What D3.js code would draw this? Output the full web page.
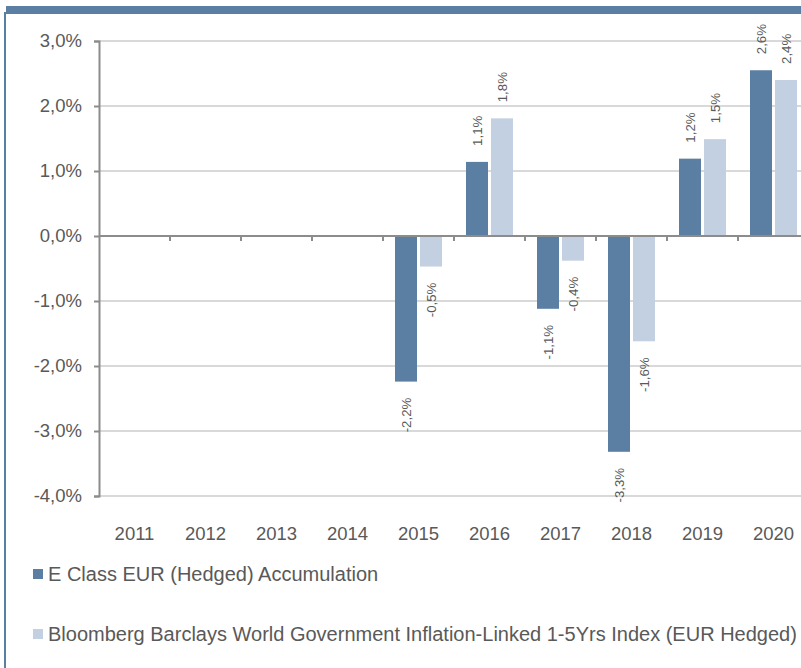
<!DOCTYPE html>
<html>
<head>
<meta charset="utf-8">
<script src="https://cdn.jsdelivr.net/npm/d3@7"></script>
<style>
  html, body { margin: 0; padding: 0; background: #fff; }
  svg { display: block; font-family: "Liberation Sans", Arial, sans-serif; }
</style>
</head>
<body>
<svg id="chart" width="801" height="668"></svg>
<script>
const years = ["2011","2012","2013","2014","2015","2016","2017","2018","2019","2020"];
const fundValues  = [null, null, null, null, -2.24, 1.14, -1.12, -3.32, 1.19, 2.55];
const indexValues = [null, null, null, null, -0.47, 1.81, -0.38, -1.62, 1.49, 2.40];
const fundLabels  = ["", "", "", "", "-2,2%", "1,1%", "-1,1%", "-3,3%", "1,2%", "2,6%"];
const indexLabels = ["", "", "", "", "-0,5%", "1,8%", "-0,4%", "-1,6%", "1,5%", "2,4%"];
const yTicks = [3, 2, 1, 0, -1, -2, -3, -4];
const yTickLabels = ["3,0%", "2,0%", "1,0%", "0,0%", "-1,0%", "-2,0%", "-3,0%", "-4,0%"];
const seriesNames = ["E Class EUR (Hedged) Accumulation",
  "Bloomberg Barclays World Government Inflation-Linked 1-5Yrs Index (EUR Hedged)"];
const seriesKeys = ["fund", "index"];
const colors = ["#5b7fa3", "#c3d0e2"];

const svg = d3.select("#chart");
const textColor = "#595959";

// frame
svg.append("rect").attr("x", 6).attr("y", 6).attr("width", 795).attr("height", 8).attr("fill", "#5b7fa3");
svg.append("rect").attr("x", 4).attr("y", 12).attr("width", 2).attr("height", 656).attr("fill", "#5b7fa3");

const x0 = d3.scaleBand().domain(years).range([99, 809]).padding(0);
const x1 = d3.scaleBand().domain(seriesKeys).range([12, 59]).paddingInner(0.12).paddingOuter(0);
const y = d3.scaleLinear().domain([-4, 3]).range([496, 41]);

// gridlines
svg.append("g").selectAll("line").data(yTicks.filter(t => t !== 0)).join("line")
  .attr("x1", 99).attr("x2", 801)
  .attr("y1", d => y(d)).attr("y2", d => y(d))
  .attr("stroke", "#d9d9d9").attr("stroke-width", 2);

// y axis
const yAxis = d3.axisLeft(y).tickValues(yTicks).tickSize(5).tickPadding(12)
  .tickFormat((d, i) => yTickLabels[i]);
const gy = svg.append("g").attr("transform", "translate(99,0)").call(yAxis);
gy.select(".domain").attr("stroke", "#8c8c8c").attr("stroke-width", 2);
gy.selectAll(".tick line").attr("stroke", "#8c8c8c").attr("stroke-width", 2);
gy.selectAll(".tick text").attr("fill", textColor).attr("font-size", 18.5)
  .attr("font-family", "Liberation Sans, Arial, sans-serif");

// bars
const rows = years.map((yr, i) => ({ year: yr, vals: [
  { key: "fund", v: fundValues[i], label: fundLabels[i] },
  { key: "index", v: indexValues[i], label: indexLabels[i] }
]}));

const groups = svg.append("g").selectAll("g").data(rows).join("g")
  .attr("transform", d => `translate(${x0(d.year)},0)`);

groups.selectAll("rect").data(d => d.vals.filter(v => v.v !== null)).join("rect")
  .attr("x", d => x1(d.key))
  .attr("width", x1.bandwidth())
  .attr("y", d => y(Math.max(0, d.v)))
  .attr("height", d => Math.abs(y(d.v) - y(0)))
  .attr("fill", (d) => colors[seriesKeys.indexOf(d.key)]);

groups.selectAll("text").data(d => d.vals.filter(v => v.v !== null)).join("text")
  .attr("transform", d => {
    const cx = x1(d.key) + x1.bandwidth() / 2;
    const cy = d.v >= 0 ? y(d.v) - 16 : y(d.v) + 16;
    return `translate(${cx},${cy}) rotate(-90)`;
  })
  .attr("text-anchor", d => d.v >= 0 ? "start" : "end")
  .attr("dy", "0.35em")
  .attr("font-size", 13.3)
  .attr("fill", textColor)
  .text(d => d.label);

// zero axis line
const xAxis = d3.axisBottom(x0).tickSize(0).tickFormat("");
const gx = svg.append("g").attr("transform", `translate(0,${y(0)})`).call(xAxis);
gx.select(".domain").remove();
svg.append("line").attr("x1", 99).attr("x2", 801).attr("y1", y(0)).attr("y2", y(0))
  .attr("stroke", "#8c8c8c").attr("stroke-width", 2);
svg.append("g").selectAll("line").data(years.slice(1)).join("line")
  .attr("x1", d => x0(d)).attr("x2", d => x0(d))
  .attr("y1", y(0)).attr("y2", y(0) + 5)
  .attr("stroke", "#8c8c8c").attr("stroke-width", 2);

// category labels
svg.append("g").selectAll("text").data(years).join("text")
  .attr("x", d => x0(d) + x0.bandwidth() / 2)
  .attr("y", 540)
  .attr("text-anchor", "middle")
  .attr("font-size", 18.5)
  .attr("fill", textColor)
  .text(d => d);

// legend
const leg = svg.append("g").selectAll("g").data(seriesNames).join("g")
  .attr("transform", (d, i) => `translate(33,${574 + i * 60})`);
leg.append("rect").attr("x", 0).attr("y", -5).attr("width", 10).attr("height", 10)
  .attr("fill", (d, i) => colors[i]);
leg.append("text").attr("x", 15).attr("y", 7).attr("font-size", 20)
  .attr("fill", textColor).text(d => d);
</script>
</body>
</html>
